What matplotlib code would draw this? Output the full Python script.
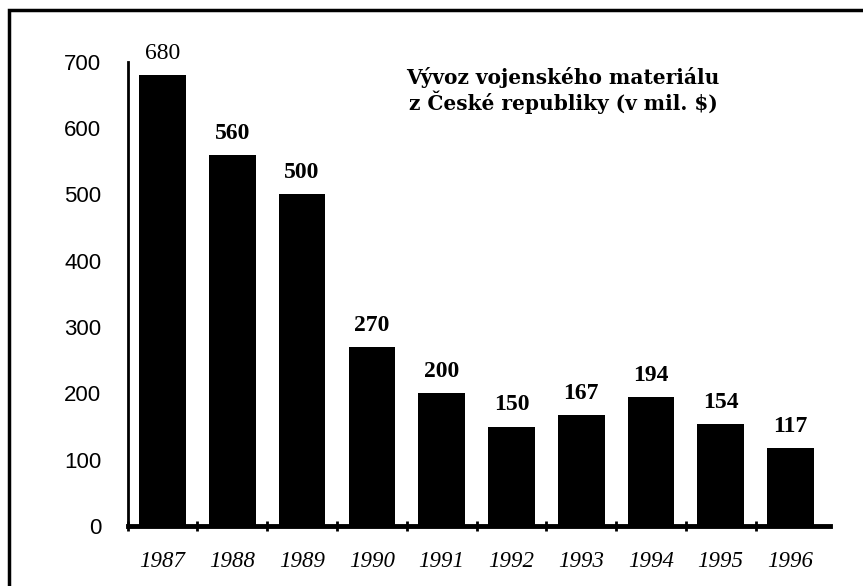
import matplotlib.pyplot as plt
from matplotlib.patches import Rectangle
import numpy as np

# export of military material, mil. USD
years = ['1987', '1988', '1989', '1990', '1991', '1992', '1993', '1994', '1995', '1996']
values = [680, 560, 500, 270, 200, 150, 167, 194, 154, 117]
yticks = [0, 100, 200, 300, 400, 500, 600, 700]
title = 'Vývoz vojenského materiálu\nz České republiky (v mil. $)'

fig = plt.figure(figsize=(8.63, 5.86), dpi=100)
ax = fig.add_axes([0.148, 0.1024, 0.814, 0.792])

x = np.arange(len(years))
bars = ax.bar(x, values, width=0.67, color='black', edgecolor='black', linewidth=0)

for i, (xi, v) in enumerate(zip(x, values)):
    ax.annotate(str(v), (xi, v), xytext=(0, 8), textcoords='offset points',
                ha='center', va='bottom', family='Liberation Serif', fontsize=17,
                fontweight='normal' if i == 0 else 'bold')

ax.set_xlim(-0.49, 9.57)
ax.set_ylim(0, 700)
ax.set_yticks(yticks)
ax.set_yticklabels([str(t) for t in yticks], family='Liberation Sans', fontsize=16)
ax.set_xticks(x)
ax.set_xticklabels(years, family='Liberation Serif', style='italic', fontsize=16.5)
ax.tick_params(axis='y', length=0, pad=19)
ax.tick_params(axis='x', which='major', length=0, pad=18)
ax.set_xticks(np.arange(-0.5, len(years) - 0.5), minor=True)
ax.tick_params(axis='x', which='minor', length=7, width=2, direction='inout')

for side in ['top', 'right']:
    ax.spines[side].set_visible(False)
ax.spines['left'].set_linewidth(2)
ax.spines['bottom'].set_linewidth(3.5)

ax.text(0.62, 0.99, title, transform=ax.transAxes, ha='center', va='top',
        family='DejaVu Serif', fontweight='bold', fontsize=14.5, linespacing=1.15)

# frame around the picture
fig.patches.append(Rectangle((0.010, -0.05), 1.05, 1.033, transform=fig.transFigure,
                             fill=False, edgecolor='black', linewidth=2.5))

plt.savefig('out.png', dpi=100)
